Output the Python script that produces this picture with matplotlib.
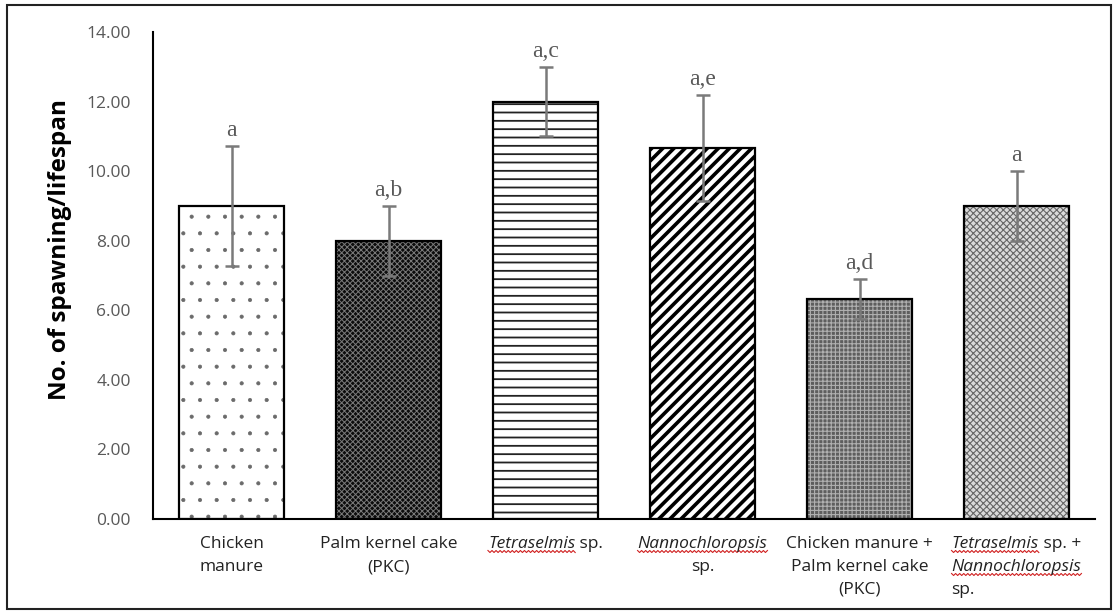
import numpy as np
import matplotlib
matplotlib.use("Agg")
import matplotlib.pyplot as plt
from matplotlib.transforms import IdentityTransform
from matplotlib.patches import Rectangle
from matplotlib.lines import Line2D

# Treatment groups and measured values
categories = [
    "Chicken manure",
    "Palm kernel cake (PKC)",
    "Tetraselmis sp.",
    "Nannochloropsis sp.",
    "Chicken manure + Palm kernel cake (PKC)",
    "Tetraselmis sp. + Nannochloropsis sp.",
]
means = [9.00, 8.00, 12.00, 10.67, 6.33, 9.00]
errors = [1.73, 1.00, 1.00, 1.53, 0.58, 1.00]
letters = ["a", "a,b", "a,c", "a,e", "a,d", "a"]
yticks = [0, 2, 4, 6, 8, 10, 12, 14]

# Axis labels, split into lines; *word* marks italic (species names)
tick_label_lines = [
    ["Chicken", "manure"],
    ["Palm kernel cake", "(PKC)"],
    ["*Tetraselmis* sp."],
    ["*Nannochloropsis*", "sp."],
    ["Chicken manure +", "Palm kernel cake", "(PKC)"],
    ["*Tetraselmis* sp. +", "*Nannochloropsis*", "sp."],
]
tick_label_align = ["center", "center", "center", "center", "center", "left"]

# Fill styles: (face colour, hatch, hatch colour, hatch line width)
styles = [
    ("white", ".", "#6a6a6a", 0.5),
    ("#0c0c0c", "xxxxxx", "#7a7a7a", 0.7),
    ("white", "--", "#222222", 1.3),
    ("white", "///", "#000000", 2.6),
    ("#5e5e5e", "++++", "#b0b0b0", 0.8),
    ("#dadada", "xxxxx", "#666666", 0.8),
]

SANS = ["Open Sans", "DejaVu Sans"]
SERIF = ["Liberation Serif", "DejaVu Serif"]

W, H = 1115, 611
fig = plt.figure(figsize=(W / 100, H / 100), dpi=100)
ax = fig.add_axes([153 / W, 1 - 519 / H, (1095 - 153) / W, (519 - 32) / H])

x = np.arange(len(categories))
width = 0.67

for i, (face, hatch, hcol, hlw) in enumerate(styles):
    with plt.rc_context({"hatch.linewidth": hlw}):
        bars = ax.bar(x[i], means[i], width, color=face, edgecolor=hcol,
                      hatch=hatch, linewidth=0, zorder=2)
        for b in bars:
            if hasattr(b, "set_hatch_linewidth"):
                b.set_hatch_linewidth(hlw)
    ax.bar(x[i], means[i], width, fill=False, edgecolor="black",
           linewidth=1.6, zorder=3)

ax.errorbar(x, means, yerr=errors, fmt="none", ecolor="#7a7a7a",
            elinewidth=1.8, capsize=5, capthick=1.8, zorder=4)

for i in range(len(x)):
    ax.annotate(letters[i], (x[i], means[i] + errors[i]), xytext=(0, 7),
                textcoords="offset points", ha="center", va="baseline",
                fontsize=17, family=SERIF, color="#595959")

ax.set_xlim(-0.5, 5.5)
ax.set_ylim(0, 14)
ax.set_yticks(yticks)
ax.set_yticklabels([f"{v:.2f}" for v in yticks], family=SANS,
                   fontsize=12.5, color="#595959")
ax.tick_params(axis="y", length=0, pad=16)
ax.set_xticks([])
for s in ("top", "right"):
    ax.spines[s].set_visible(False)
for s in ("left", "bottom"):
    ax.spines[s].set_linewidth(1.5)
    ax.spines[s].set_color("black")

fig.text(60, H - 249, "No. of spawning/lifespan", transform=IdentityTransform(),
         rotation=90, ha="center", va="center", fontsize=17.5,
         fontweight="bold", family=SANS, color="black")

# Category labels with italic species names and red squiggle underlines
fig.canvas.draw()
renderer = fig.canvas.get_renderer()
LABEL_FS = 12.5


def parse(line):
    parts = line.split("*")
    return [(p, k % 2 == 1) for k, p in enumerate(parts) if p]


def seg_width(text, italic):
    t = fig.text(0, 0, text, fontsize=LABEL_FS, family=SANS,
                 style="italic" if italic else "normal",
                 transform=IdentityTransform())
    w = t.get_window_extent(renderer).width
    t.remove()
    return w


first_baseline = H - 548
line_step = 23
for i, lines in enumerate(tick_label_lines):
    cx = ax.transData.transform((x[i], 0))[0]
    parsed = [parse(l) for l in lines]
    widths = [[seg_width(s, it) for s, it in segs] for segs in parsed]
    block_w = max(sum(w) for w in widths)
    for j, segs in enumerate(parsed):
        total = sum(widths[j])
        if tick_label_align[i] == "left":
            xs = cx - block_w / 2
        else:
            xs = cx - total / 2
        yb = first_baseline - j * line_step
        for (s, it), w in zip(segs, widths[j]):
            fig.text(xs, yb, s, fontsize=LABEL_FS, family=SANS,
                     style="italic" if it else "normal", color="#222222",
                     ha="left", va="baseline", transform=IdentityTransform())
            if it:
                n = max(int(w / 2), 2)
                wx = np.linspace(xs, xs + w, n + 1)
                wy = yb - 3.5 + np.where(np.arange(n + 1) % 2 == 0, 1.0, -1.0)
                fig.add_artist(Line2D(wx, wy, transform=IdentityTransform(),
                                      color="#d02020", linewidth=0.8))
            xs += w

# Outer frame
fig.add_artist(Rectangle((7, 2), 1104, 604, transform=IdentityTransform(),
                         fill=False, edgecolor="#222222", linewidth=1.5))

fig.savefig("out.png", dpi=100)
